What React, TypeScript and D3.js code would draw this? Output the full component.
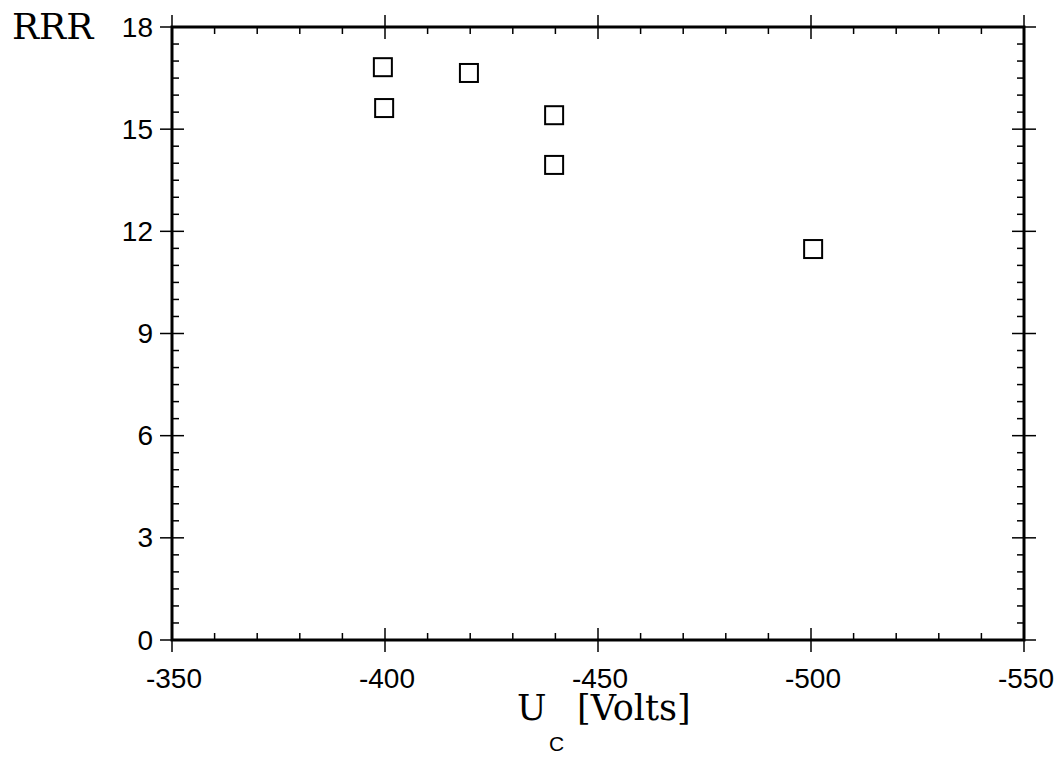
import React from "react";
import * as d3 from "d3";

const xValues = [-399.5, -399.8, -419.7, -439.7, -439.7, -500.5];
const yValues = [16.82, 15.62, 16.65, 15.41, 13.95, 11.48];
const xTicks = [-350, -400, -450, -500, -550];
const yTicks = [0, 3, 6, 9, 12, 15, 18];

const W = 1063;
const H = 759;
const left = 172;
const right = 1024;
const top = 27;
const bottom = 640;

export default function App() {
  const x = d3.scaleLinear().domain([-350, -550]).range([left, right]);
  const y = d3.scaleLinear().domain([0, 18]).range([bottom, top]);
  const xMinor = d3.range(-350, -551, -10).filter((v) => v % 50 !== 0);
  const yMinor = d3.range(0, 18.01, 0.5).filter((v) => Math.abs(v % 3) > 1e-6);
  const major = 12;
  const minor = 7;
  const tickFont = "'Liberation Sans', Arial, sans-serif";
  const serif = "'DejaVu Serif', serif";
  const sq = 18;

  return (
    <svg
      width={W}
      height={H}
      style={{ position: "absolute", left: 0, top: 0, background: "#fff" }}
    >
      <rect x={0} y={0} width={W} height={H} fill="#fff" />
      <g stroke="#000" strokeWidth={1.5}>
        {xMinor.map((v) => (
          <g key={"xm" + v}>
            <line x1={x(v)} x2={x(v)} y1={bottom} y2={bottom - minor} />
            <line x1={x(v)} x2={x(v)} y1={top} y2={top + minor} />
          </g>
        ))}
        {yMinor.map((v) => (
          <g key={"ym" + v}>
            <line x1={left} x2={left + minor} y1={y(v)} y2={y(v)} />
            <line x1={right} x2={right - minor} y1={y(v)} y2={y(v)} />
          </g>
        ))}
        {xTicks.map((v) => (
          <g key={"xM" + v}>
            <line x1={x(v)} x2={x(v)} y1={bottom - major} y2={bottom + major} />
            <line x1={x(v)} x2={x(v)} y1={top - major} y2={top + major} />
          </g>
        ))}
        {yTicks.map((v) => (
          <g key={"yM" + v}>
            <line x1={left - major} x2={left + major} y1={y(v)} y2={y(v)} />
            <line x1={right - major} x2={right + major} y1={y(v)} y2={y(v)} />
          </g>
        ))}
      </g>
      <rect
        x={left}
        y={top}
        width={right - left}
        height={bottom - top}
        fill="none"
        stroke="#000"
        strokeWidth={3}
      />
      <g fontFamily={tickFont} fontSize={28} fill="#000">
        {xTicks.map((v) => (
          <text key={"xl" + v} x={x(v) + 2} y={688} textAnchor="middle">
            {v}
          </text>
        ))}
        {yTicks.map((v) => (
          <text
            key={"yl" + v}
            x={153}
            y={y(v)}
            textAnchor="end"
            dominantBaseline="central"
          >
            {v}
          </text>
        ))}
      </g>
      <g fill="#fff" stroke="#000" strokeWidth={2}>
        {xValues.map((v, i) => (
          <rect
            key={"p" + i}
            x={x(v) - sq / 2}
            y={y(yValues[i]) - sq / 2}
            width={sq}
            height={sq}
          />
        ))}
      </g>
      <text x={12} y={39} fontFamily={serif} fontSize={36} fill="#000">
        RRR
      </text>
      <text x={517} y={720} fontFamily={serif} fontSize={35} fill="#000">
        U
      </text>
      <text x={549} y={751} fontFamily={tickFont} fontSize={21} fill="#000">
        C
      </text>
      <text x={577} y={720} fontFamily={serif} fontSize={35} fill="#000">
        [Volts]
      </text>
    </svg>
  );
}
